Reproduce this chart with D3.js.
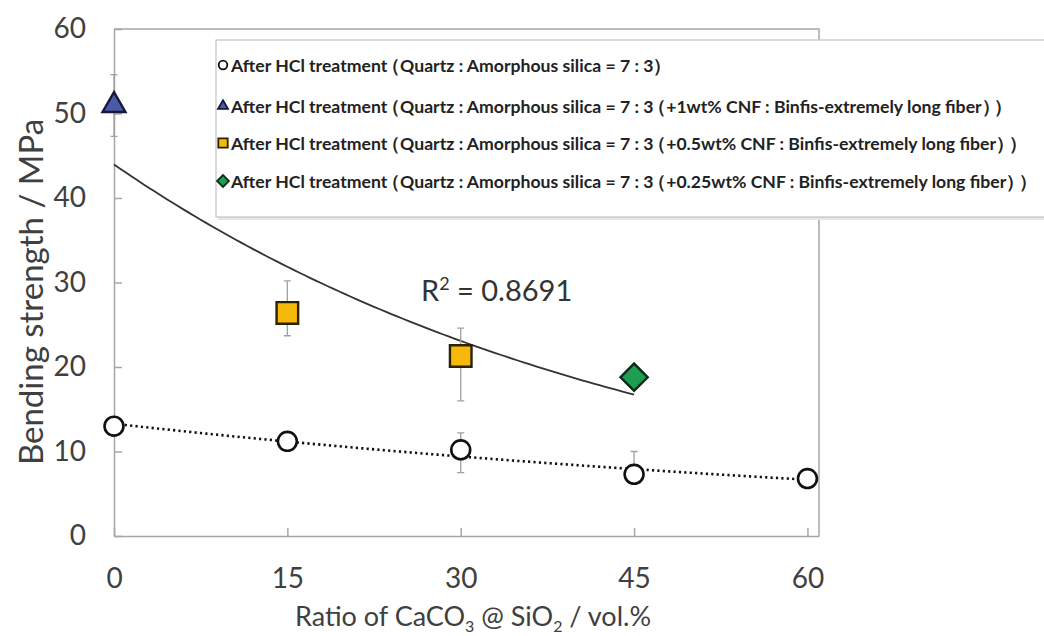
<!DOCTYPE html>
<html>
<head>
<meta charset="utf-8">
<script src="https://cdn.jsdelivr.net/npm/d3@7"></script>
<style>
  body { margin: 0; background: #fff; }
  svg { display: block; }
</style>
</head>
<body>
<svg id="chart" width="1044" height="636"></svg>
<script>
"use strict";

// data : after HCl treatment, no CNF
const ratio = [0, 15, 30, 45, 60];
const plainStrength = [13.0, 11.2, 10.2, 7.3, 6.8];
const plainLow = [12.6, 10.6, 7.5, 6.6, 6.5];
const plainHigh = [13.4, 11.8, 12.2, 10.0, 7.1];

// data : with CNF (one point per CNF amount)
const cnfRatio = [0, 15, 30, 45];
const cnfStrength = [51.2, 26.4, 21.3, 18.8];
const cnfLow = [47.3, 23.7, 16.0, 18.4];
const cnfHigh = [54.6, 30.2, 24.6, 19.2];
const cnfShape = ["triangle", "square", "square", "diamond"];

// ticks
const xTicks = [0, 15, 30, 45, 60];
const yTicks = [0, 10, 20, 30, 40, 50, 60];

// legend
const legendShapes = ["circle", "triangle", "square", "diamond"];
const legendLabels = [
    "After HCl treatment（Quartz : Amorphous silica = 7 : 3）",
    "After HCl treatment（Quartz : Amorphous silica = 7 : 3（+1wt% CNF : Binfis-extremely long fiber））",
    "After HCl treatment（Quartz : Amorphous silica = 7 : 3（+0.5wt% CNF : Binfis-extremely long fiber））",
    "After HCl treatment（Quartz : Amorphous silica = 7 : 3（+0.25wt% CNF : Binfis-extremely long fiber））"
];
const rSquared = "0.8691";



// styles
const fill = { circle: "#ffffff", triangle: "#4a5ba6", square: "#f6b90a", diamond: "#1f9e52" };
const stroke = { circle: "#111111", triangle: "#14183a", square: "#2a2200", diamond: "#0c2a18" };
const axisColor = "#a6a6a6",
      textColor = "#404040",
      font = "Lato, 'Open Sans', sans-serif";

const plot = { left: 114, right: 819, top: 29, bottom: 536 };



// scales
let scaleX = d3.scaleLinear().domain([0, 61]).range([plot.left, plot.right]);
let scaleY = d3.scaleLinear().domain([0, 60]).range([plot.bottom, plot.top]);

let chart = d3.select("#chart");



// frame (top + right)
chart.append("path")
.attr("d", `M${plot.left},${plot.top}H${plot.right}V${plot.bottom}`)
.attr("fill", "none")
.attr("stroke", axisColor)
.attr("stroke-width", 1.5);



// y axis
let yAxis = chart.append("g")
.attr("class", "y_axis")
.attr("transform", `translate(${plot.left},0)`)
.call(d3.axisLeft(scaleY).tickValues(yTicks).tickSizeInner(-8).tickSizeOuter(0).tickPadding(28));

// x axis
let xAxis = chart.append("g")
.attr("class", "x_axis")
.attr("transform", `translate(0,${plot.bottom})`)
.call(d3.axisBottom(scaleX).tickValues(xTicks).tickSizeInner(-8).tickSizeOuter(0).tickPadding(32));

[yAxis, xAxis].forEach(a => {
    a.select(".domain").attr("stroke", axisColor).attr("stroke-width", 1.5);
    a.selectAll(".tick line").attr("stroke", axisColor).attr("stroke-width", 1.5);
    a.selectAll(".tick text")
    .attr("fill", textColor)
    .style("font-family", font)
    .style("font-size", "28px");
});



// axis titles
let yTitle = chart.append("text")
.attr("transform", `translate(30, 292) rotate(-90)`)
.attr("text-anchor", "middle")
.attr("dominant-baseline", "central")
.attr("fill", textColor)
.style("font-family", font)
.style("font-size", "27px")
.text("Bending strength / MPa");
// stretch to the length seen in the picture
let wy = yTitle.node().getComputedTextLength();
yTitle.style("font-size", `${Math.min(33, 27 * 352 / wy)}px`);

let xTitle = chart.append("text")
.attr("x", 473)
.attr("y", 626)
.attr("text-anchor", "middle")
.attr("fill", textColor)
.style("font-family", font)
.style("font-size", "27px");
xTitle.append("tspan").text("Ratio of CaCO");
xTitle.append("tspan").attr("dy", 6).style("font-size", "16px").text("3");
xTitle.append("tspan").attr("dy", -6).text(" @ SiO");
xTitle.append("tspan").attr("dy", 6).style("font-size", "16px").text("2");
xTitle.append("tspan").attr("dy", -6).text(" / vol.%");



// exponential trend lines (least squares on ln y)
function expFit(xs, ys) {
    const ly = ys.map(Math.log);
    const mx = d3.mean(xs), my = d3.mean(ly);
    const b = d3.sum(xs, (x, i) => (x - mx) * (ly[i] - my)) / d3.sum(xs, x => (x - mx) * (x - mx));
    const a = Math.exp(my - b * mx);
    return x => a * Math.exp(b * x);
}

let plainFit = expFit(ratio, plainStrength);
let cnfFit = expFit(cnfRatio, cnfStrength);

let trend = d3.line()
.x(d => scaleX(d[0]))
.y(d => scaleY(d[1]));

chart.append("path")
.attr("d", trend(d3.range(0, 60.01, 0.5).map(x => [x, plainFit(x)])))
.attr("fill", "none")
.attr("stroke", "#111")
.attr("stroke-width", 2.6)
.attr("stroke-dasharray", "2.2,3.2");

chart.append("path")
.attr("d", trend(d3.range(0, 45.01, 0.5).map(x => [x, cnfFit(x)])))
.attr("fill", "none")
.attr("stroke", "#333")
.attr("stroke-width", 1.8);



// error bars
function errorBars(xs, low, high) {
    let g = chart.append("g").attr("class", "error");
    xs.forEach((x, i) => {
        let cx = scaleX(x);
        g.append("path")
        .attr("d", `M${cx},${scaleY(low[i])}V${scaleY(high[i])}M${cx - 3.5},${scaleY(low[i])}h7M${cx - 3.5},${scaleY(high[i])}h7`)
        .attr("fill", "none")
        .attr("stroke", "#a0a0a0")
        .attr("stroke-width", 1.3);
    });
}
errorBars(ratio, plainLow, plainHigh);
errorBars(cnfRatio, cnfLow, cnfHigh);



// markers
function marker(sel, shape, size) {
    let p;
    if (shape == "circle") {
        p = sel.append("circle").attr("r", size * 0.43);
    } else if (shape == "triangle") {
        p = sel.append("path").attr("d", d3.symbol(d3.symbolTriangle, size * size * 0.43)());
    } else if (shape == "square") {
        p = sel.append("path").attr("d", d3.symbol(d3.symbolSquare, size * size * 0.88)());
    } else {
        p = sel.append("path").attr("d", d3.symbol(d3.symbolSquare, size * size * 0.7)()).attr("transform", "rotate(45)");
    }
    return p.attr("fill", fill[shape]).attr("stroke", stroke[shape]);
}

chart.append("g")
.selectAll("g")
.data(plainStrength)
.join("g")
.attr("transform", (d, i) => `translate(${scaleX(ratio[i])},${scaleY(d)})`)
.each(function() {
    marker(d3.select(this), "circle", 22).attr("stroke-width", 2.6);
});

chart.append("g")
.selectAll("g")
.data(cnfStrength)
.join("g")
.attr("transform", (d, i) => `translate(${scaleX(cnfRatio[i])},${scaleY(d) + (cnfShape[i] == "triangle" ? 2 : 0)})`)
.each(function(d, i) {
    marker(d3.select(this), cnfShape[i], 23).attr("stroke-width", 2.4);
});



// R squared
let r2 = chart.append("text")
.attr("x", 421)
.attr("y", 301)
.attr("fill", "#333")
.style("font-family", font)
.style("font-size", "29px");
r2.append("tspan").text("R");
r2.append("tspan").attr("dy", -11).style("font-size", "18px").text("2");
r2.append("tspan").attr("dy", 11).text(" = " + rSquared);



// legend
let legend = chart.append("g").attr("class", "legend");
legend.append("rect")
.attr("x", 218).attr("y", 42).attr("width", 900).attr("height", 178)
.attr("fill", "#e6e6e6");
legend.append("rect")
.attr("x", 216).attr("y", 40).attr("width", 900).attr("height", 177)
.attr("fill", "#fff")
.attr("stroke", "#c4c4c4")
.attr("stroke-width", 1.2);

const rowY = [65, 106, 143, 181];
let rows = legend.selectAll("g.row")
.data(legendLabels)
.join("g")
.attr("class", "row")
.attr("transform", (d, i) => `translate(223,${rowY[i]})`);

rows.each(function(d, i) {
    marker(d3.select(this), legendShapes[i], 10).attr("stroke-width", 1.8);
});

let labels = rows.append("text")
.attr("x", 8)
.attr("dominant-baseline", "central")
.attr("fill", "#222")
.style("font-family", font)
.style("font-weight", "bold")
.style("font-size", "13px");

// full-width brackets: trim their empty half (via the advance of the char before "（" and of "）")
labels.each(function(d) {
    let t = d3.select(this);
    let parts = d.split(/([（）])/).filter(s => s.length);
    parts.forEach((s, k) => {
        let last = k == parts.length - 1;
        if (s == "）") {
            let span = t.append("tspan").text(s);
            if (!last) span.style("letter-spacing", "-0.3em");
        } else if (parts[k + 1] == "（" && s != "（") {
            if (s.length > 1) t.append("tspan").text(s.slice(0, -1));
            t.append("tspan").style("letter-spacing", "-0.3em").text(s.slice(-1));
        } else {
            t.append("tspan").text(s);
        }
    });
});

// fit the longest row so it stays inside the picture
let wMax = d3.max(labels.nodes(), n => n.getComputedTextLength());
labels.style("font-size", `${13 * (1036 - 231) / wMax}px`);
</script>
</body>
</html>
